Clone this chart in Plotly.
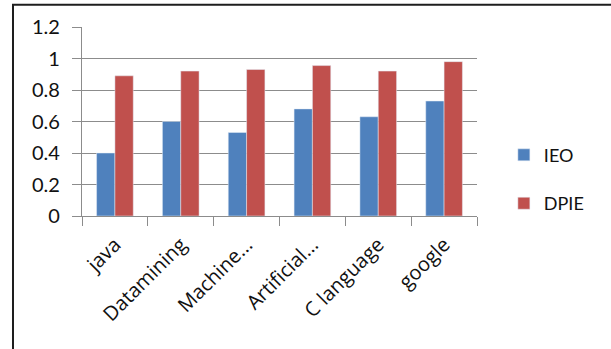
import plotly.graph_objects as go

categories = ["java", "Datamining", "Machine...", "Artificial...", "C language", "google"]
ieo = [0.40, 0.60, 0.53, 0.68, 0.63, 0.73]
dpie = [0.89, 0.92, 0.93, 0.955, 0.92, 0.98]
y_ticks = [0, 0.2, 0.4, 0.6, 0.8, 1, 1.2]
y_tick_text = ["0", "0.2", "0.4", "0.6", "0.8", "1", "1.2"]

FONT = "Lato, Open Sans, sans-serif"

fig = go.Figure()
fig.add_trace(go.Bar(x=categories, y=ieo, name="IEO", marker_color="#4F81BD",
                     legendgroup="a"))
fig.add_trace(go.Bar(x=categories, y=dpie, name="DPIE", marker_color="#C0504D",
                     legendgroup="b"))

fig.update_layout(
    width=611, height=349,
    margin=dict(l=82, r=134, t=27, b=133),
    paper_bgcolor="white", plot_bgcolor="white",
    barmode="group", bargap=0.443, bargroupgap=0,
    font=dict(family=FONT, size=18, color="#111111"),
    legend=dict(x=1.068, xanchor="left", y=0.42, yanchor="top",
                tracegroupgap=22, font=dict(size=18),
                bgcolor="rgba(0,0,0,0)"),
    xaxis=dict(
        type="category", tickson="boundaries", ticks="outside", ticklen=9,
        tickcolor="#8c8c8c", tickwidth=1.2, tickangle=-45,
        showline=True, linecolor="#8c8c8c", linewidth=1.2,
        showgrid=False, tickfont=dict(size=20, family="Open Sans, sans-serif"),
        ticklabelstandoff=8,
    ),
    yaxis=dict(
        range=[0, 1.2], tickvals=y_ticks, ticktext=y_tick_text,
        ticks="outside", ticklen=9, tickcolor="#8c8c8c", tickwidth=1.2,
        showline=True, linecolor="#8c8c8c", linewidth=1.2,
        showgrid=True, gridcolor="#8c8c8c", gridwidth=1.2,
        zeroline=False, tickfont=dict(size=20), ticklabelstandoff=8,
    ),
    shapes=[dict(type="rect", xref="paper", yref="paper",
                 x0=-0.1747, x1=1.6, y0=-1.0, y1=1.1182,
                 line=dict(color="#1e1e1e", width=2), layer="above")],
)

fig.write_html("out.html")
